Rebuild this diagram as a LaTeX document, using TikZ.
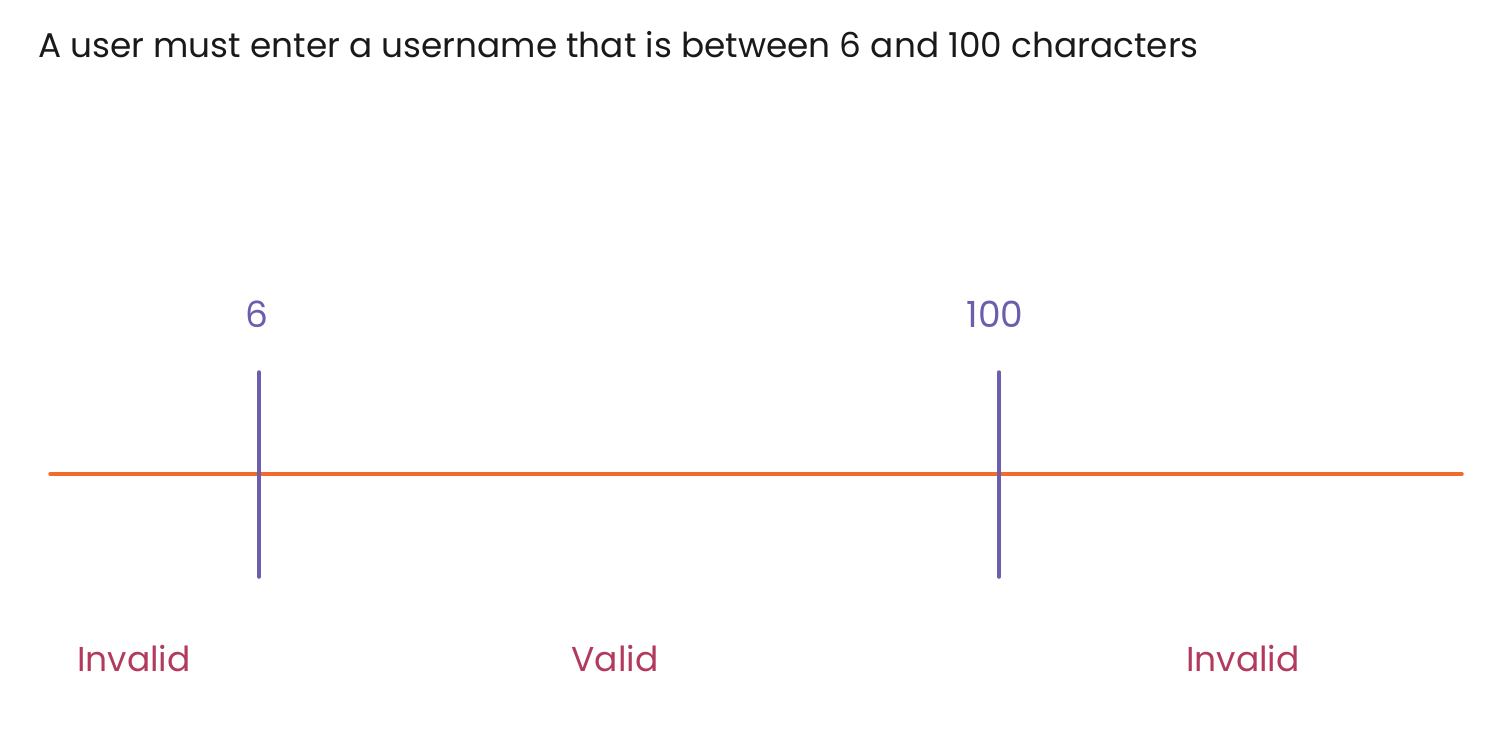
\documentclass[tikz,border=0pt]{standalone}
\usepackage{fontspec}
\setmainfont{Poppins}
\definecolor{tickc}{HTML}{6B5FAD}
\definecolor{linec}{HTML}{F26B2A}
\definecolor{labc}{HTML}{B23A5C}
\begin{document}
\begin{tikzpicture}[x=1pt,y=-1pt,
  tick/.style={draw=tickc,line width=3.5pt,line cap=round},
  axis/.style={draw=linec,line width=3.5pt,line cap=round},
  num/.style={text=tickc,font=\fontsize{36}{42}\selectfont,inner sep=0pt},
  lab/.style={text=labc,font=\fontsize{34.5}{40}\selectfont,inner sep=0pt},
  ttl/.style={text=black!90,font=\fontsize{34.3}{40}\selectfont,inner sep=0pt,anchor=west}]
\useasboundingbox (0,0) rectangle (1496,739);
\node[ttl] (title) at (38,45) {A user must enter a username that is between 6 and 100 characters};
\coordinate (a0) at (50,474);
\coordinate (a1) at (1462,474);
\draw[axis] (a0) -- (a1);
\coordinate (t1a) at (259,372);
\coordinate (t1b) at (259,577);
\coordinate (t2a) at (999,372);
\coordinate (t2b) at (999,577);
\draw[tick] (t1a) -- (t1b);
\draw[tick] (t2a) -- (t2b);
\node[num] (n6) at (257,314) {6};
\node[num] (n100) at (995,314) {100};
\node[lab] (inv1) at (134,659) {Invalid};
\node[lab] (val) at (615,659) {Valid};
\node[lab] (inv2) at (1243,659) {Invalid};
\end{tikzpicture}
\end{document}
